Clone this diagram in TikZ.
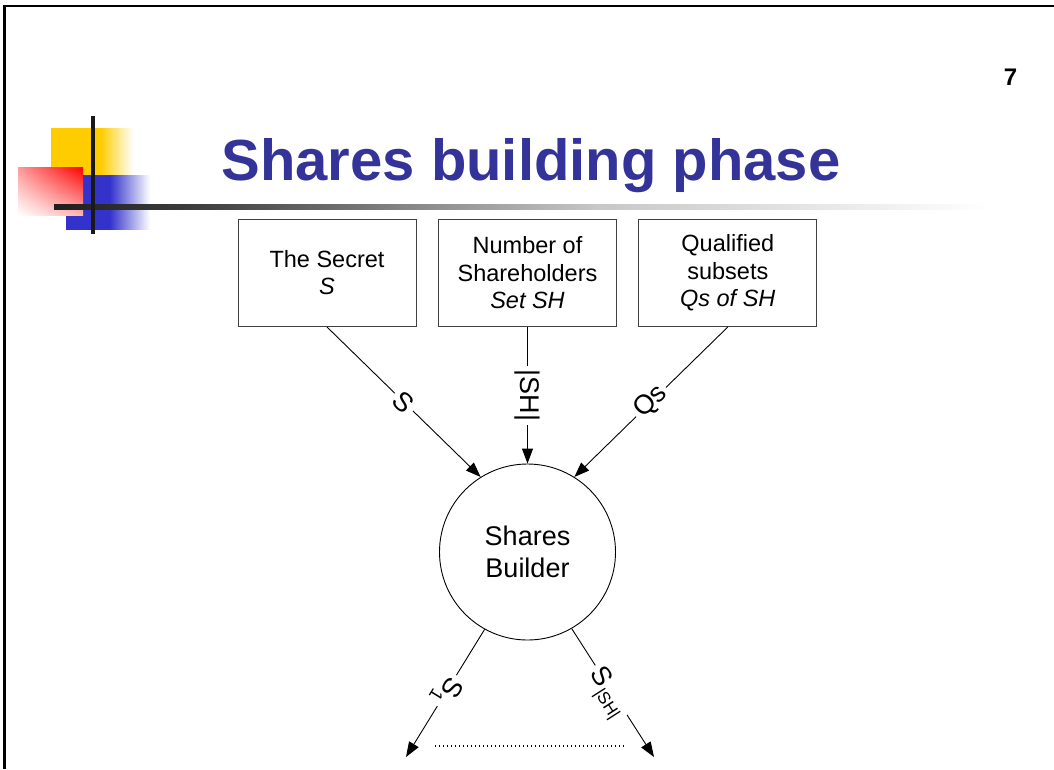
\documentclass[tikz,border=0pt]{standalone}
\usepackage{fontspec}
\setmainfont{Liberation Sans}
\usetikzlibrary{arrows.meta,shadings}

\definecolor{titleblue}{RGB}{51,51,153}
\definecolor{logoyellow}{RGB}{255,204,0}
\definecolor{logoblue}{RGB}{51,51,204}
\definecolor{boxline}{RGB}{64,64,64}

% fading bars of the slide logo and the rule under the title
\pgfdeclarehorizontalshading{yelfade}{100bp}{color(0bp)=(logoyellow); color(25bp)=(logoyellow); color(55bp)=(logoyellow); color(75bp)=(white); color(100bp)=(white)}
\pgfdeclarehorizontalshading{bluefade}{100bp}{color(0bp)=(logoblue); color(25bp)=(logoblue); color(51bp)=(logoblue); color(75bp)=(white); color(100bp)=(white)}
\pgfdeclarehorizontalshading{rulefade}{100bp}{color(0bp)=(black!88); color(25bp)=(black!88); color(33bp)=(black!75); color(54bp)=(black!22); color(75bp)=(white); color(100bp)=(white)}

\begin{document}
\begin{tikzpicture}[x=1pt,y=-1pt,
  inbox/.style={draw=boxline, line width=0.9pt, minimum width=178pt, minimum height=107.5pt,
    inner sep=0pt, align=center, font=\fontsize{23.5}{27.5}\selectfont},
  builder/.style={draw, line width=0.9pt, circle, minimum size=176pt, inner sep=0pt,
    align=center, font=\fontsize{27}{32.5}\selectfont},
  arr/.style={line width=0.9pt, -{Triangle[length=15pt,width=11pt]}},
  lab/.style={fill=white, inner sep=3.5pt, font=\fontsize{27}{27}\selectfont}
]
\useasboundingbox (0,0) rectangle (1054,769);

% slide frame
\draw[line width=2.5pt] (4.7,769) -- (4.7,6) -- (1054,6);

% logo
\shade[shading=yelfade] (51,128) rectangle (133,175);
\shade[shading=bluefade] (66,175) rectangle (150,229);
\shade[upper right=red, lower left=white, upper left=red!40!white, lower right=red!30!white]
  (18,167) rectangle (83,215);
\shade[shading=rulefade] (54,204) rectangle (990,209);
\fill[black!90] (91,116) rectangle (95,234);

% title and page number
\node[anchor=base, text=titleblue, font=\fontsize{58}{58}\selectfont\bfseries] (title) at (531,180) {Shares building phase};
\node[font=\fontsize{24}{24}\selectfont\bfseries] (pagenum) at (1010.5,77) {7};

% inputs
\node[inbox] (b1) at (327,272.8) {The Secret\\\textit{S}};
\node[inbox] (b2) at (527.5,272.8) {Number of\\Shareholders\\\textit{Set SH}};
\node[inbox] (b3) at (727.8,272.8) {Qualified\\subsets\\\textit{Qs of SH}};

% builder
\node[builder] (c) at (527.5,552) {Shares\\Builder};

% outputs
\coordinate (e1) at (406,757);
\coordinate (e2) at (654,757);
\coordinate (d1) at (435,746);
\coordinate (d2) at (625,746);

\draw[arr] (b1.south) -- (c.122) node[lab, pos=0.5, rotate=-44.4] (l1) {S};
\draw[arr] (b2.south) -- (c.north) node[lab, pos=0.5, rotate=-90] (l2) {|SH|};
\draw[arr] (b3.south) -- (c.58) node[lab, pos=0.5, rotate=44.4] (l3) {Qs};

\draw[arr] (c.-119) -- (e1) node[lab, pos=0.48, rotate=-121.6] (l4) {S\kern1pt\raisebox{-7pt}{\fontsize{18}{18}\selectfont 1}};
\draw[arr] (c.-60) -- (e2) node[lab, pos=0.5, shift={(-6,0)}, rotate=-57.4] (l5) {S\kern1pt\raisebox{-7pt}{\fontsize{17}{17}\selectfont|SH|}};

\draw[line width=1.1pt, dash pattern=on 1.1pt off 2.9pt] (d1) -- (d2);
\end{tikzpicture}
\end{document}
